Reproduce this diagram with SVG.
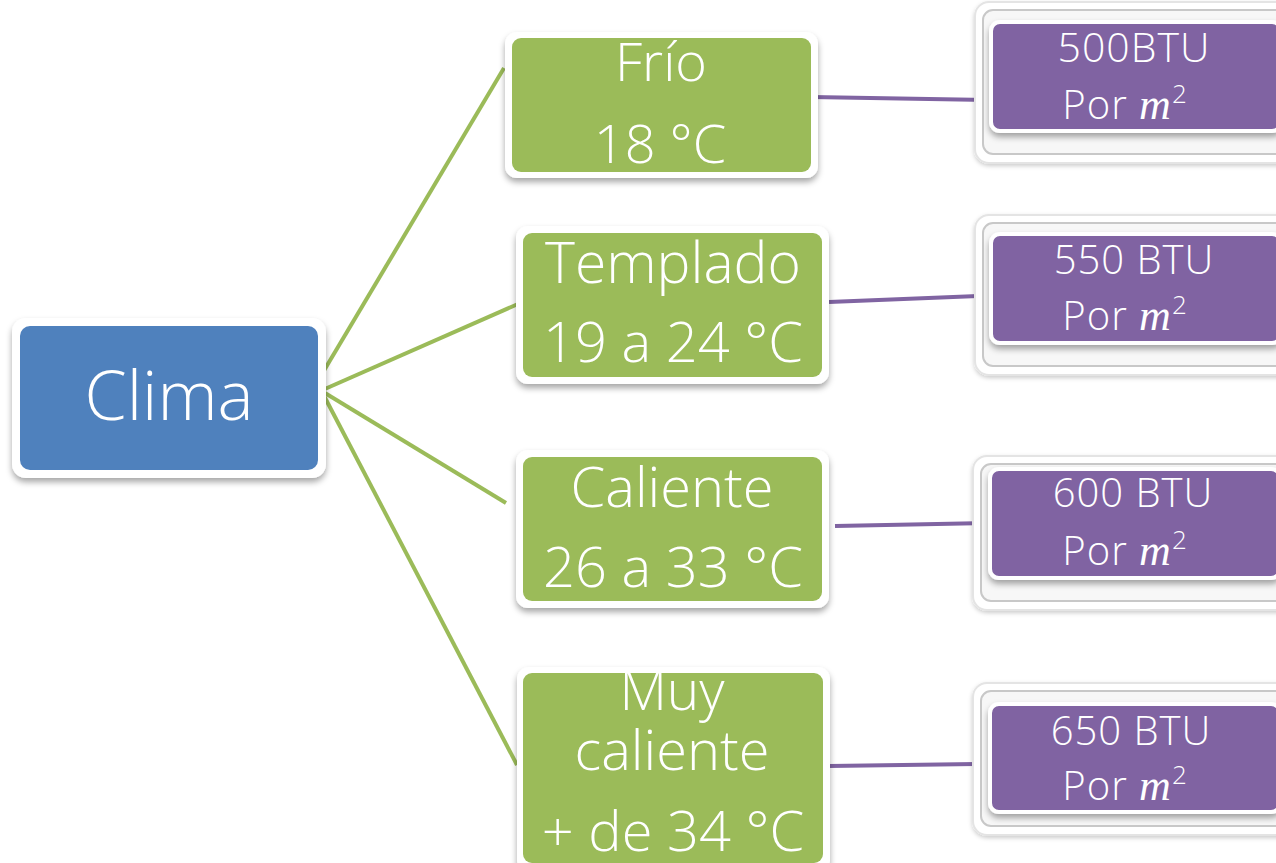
<svg xmlns="http://www.w3.org/2000/svg" width="1276" height="863" viewBox="0 0 1276 863">
<defs>
<filter id="sh" x="-10%" y="-10%" width="120%" height="130%">
<feDropShadow dx="0" dy="4" stdDeviation="3" flood-color="#000" flood-opacity="0.35"/>
</filter>
<filter id="sh2" x="-10%" y="-10%" width="120%" height="130%">
<feDropShadow dx="0" dy="2" stdDeviation="2" flood-color="#000" flood-opacity="0.2"/>
</filter>
</defs>
<style>
.frame{fill:#fff;filter:url(#sh)}
.blue{fill:#4F81BD}
.green{fill:#9BBB59}
.outer{fill:#fff;stroke:#e4e4e4;stroke-width:2;filter:url(#sh2)}
.inner{fill:#f7f7f7;stroke:#c8c8c8;stroke-width:2}
.purple{fill:#8064A2;stroke:#fff;stroke-width:4;filter:url(#sh)}
.t{font-family:"Open Sans","DejaVu Sans",sans-serif;font-weight:300;fill:#fff;text-anchor:middle}
.g{stroke:#9BBB59;stroke-width:4;fill:none}
.p{stroke:#8064A2;stroke-width:4;fill:none}
.mi{font-family:"Liberation Serif","DejaVu Serif",serif;font-style:italic;font-weight:normal}
</style>
<g id="connectors">
<line class="g" x1="316" y1="384" x2="504" y2="68"/>
<line class="g" x1="318" y1="392" x2="518" y2="304"/>
<line class="g" x1="320" y1="390" x2="506" y2="503"/>
<line class="g" x1="322" y1="392" x2="517" y2="765"/>
<line class="p" x1="811" y1="97" x2="988" y2="100"/>
<line class="p" x1="829" y1="302" x2="978" y2="296"/>
<line class="p" x1="835" y1="526" x2="988" y2="523"/>
<line class="p" x1="829" y1="766" x2="976" y2="764"/>
</g>
<g id="clima">
<rect class="frame" x="12" y="318" width="314" height="160" rx="14"/>
<rect class="blue" x="20" y="326" width="298" height="144" rx="10"/>
<text class="t" x="169" y="420" font-size="68">Clima</text>
</g>
<g id="frio">
<rect class="frame" x="505" y="32" width="313" height="146" rx="12"/>
<rect class="green" x="512" y="38" width="299" height="134" rx="9"/>
<text class="t" x="661" y="81" font-size="54">Frío</text>
<text class="t" x="660" y="163" font-size="54">18 °C</text>
</g>
<g id="templado">
<rect class="frame" x="516" y="226" width="313" height="158" rx="12"/>
<rect class="green" x="523" y="233" width="299" height="144" rx="9"/>
<text class="t" x="673" y="283" font-size="57">Templado</text>
<text class="t" x="673" y="362" font-size="56">19 a 24 °C</text>
</g>
<g id="caliente">
<rect class="frame" x="516" y="450" width="313" height="158" rx="12"/>
<rect class="green" x="523" y="457" width="299" height="144" rx="9"/>
<text class="t" x="672" y="507" font-size="56">Caliente</text>
<text class="t" x="673" y="587" font-size="56">26 a 33 °C</text>
</g>
<g id="muycaliente">
<rect class="frame" x="517" y="667" width="313" height="206" rx="12"/>
<rect class="green" x="523" y="673" width="300" height="190" rx="9"/>
<text class="t" x="672" y="710" font-size="55">Muy</text>
<text class="t" x="672" y="770" font-size="56">caliente</text>
<text class="t" x="673" y="851" font-size="56">+ de 34 °C</text>
</g>
<g id="btu500">
<rect class="outer" x="975" y="2" width="320" height="161" rx="14"/>
<rect class="inner" x="983" y="10" width="310" height="144" rx="10"/>
<rect class="purple" x="991" y="22" width="290" height="109" rx="9"/>
<text class="t" x="1134" y="62" font-size="41" letter-spacing="1">500BTU</text>
<text class="t" x="1125" y="119" font-size="40" letter-spacing="1">Por <tspan class="mi" font-size="44">m</tspan><tspan font-size="26" dy="-16">2</tspan></text>
</g>
<g id="btu550">
<rect class="outer" x="975" y="215" width="320" height="160" rx="14"/>
<rect class="inner" x="983" y="223" width="310" height="143" rx="10"/>
<rect class="purple" x="991" y="234" width="290" height="109" rx="9"/>
<text class="t" x="1134" y="274" font-size="40" letter-spacing="1">550 BTU</text>
<text class="t" x="1125" y="330" font-size="40" letter-spacing="1">Por <tspan class="mi" font-size="44">m</tspan><tspan font-size="26" dy="-16">2</tspan></text>
</g>
<g id="btu600">
<rect class="outer" x="973" y="456" width="320" height="154" rx="14"/>
<rect class="inner" x="981" y="464" width="310" height="137" rx="10"/>
<rect class="purple" x="990" y="469" width="290" height="109" rx="9"/>
<text class="t" x="1133" y="507" font-size="40" letter-spacing="1">600 BTU</text>
<text class="t" x="1125" y="565" font-size="40" letter-spacing="1">Por <tspan class="mi" font-size="44">m</tspan><tspan font-size="26" dy="-16">2</tspan></text>
</g>
<g id="btu650">
<rect class="outer" x="973" y="683" width="320" height="152" rx="14"/>
<rect class="inner" x="981" y="691" width="310" height="135" rx="10"/>
<rect class="purple" x="990" y="704" width="290" height="108" rx="9"/>
<text class="t" x="1131" y="745" font-size="40" letter-spacing="1">650 BTU</text>
<text class="t" x="1125" y="800" font-size="40" letter-spacing="1">Por <tspan class="mi" font-size="44">m</tspan><tspan font-size="26" dy="-16">2</tspan></text>
</g>
</svg>
